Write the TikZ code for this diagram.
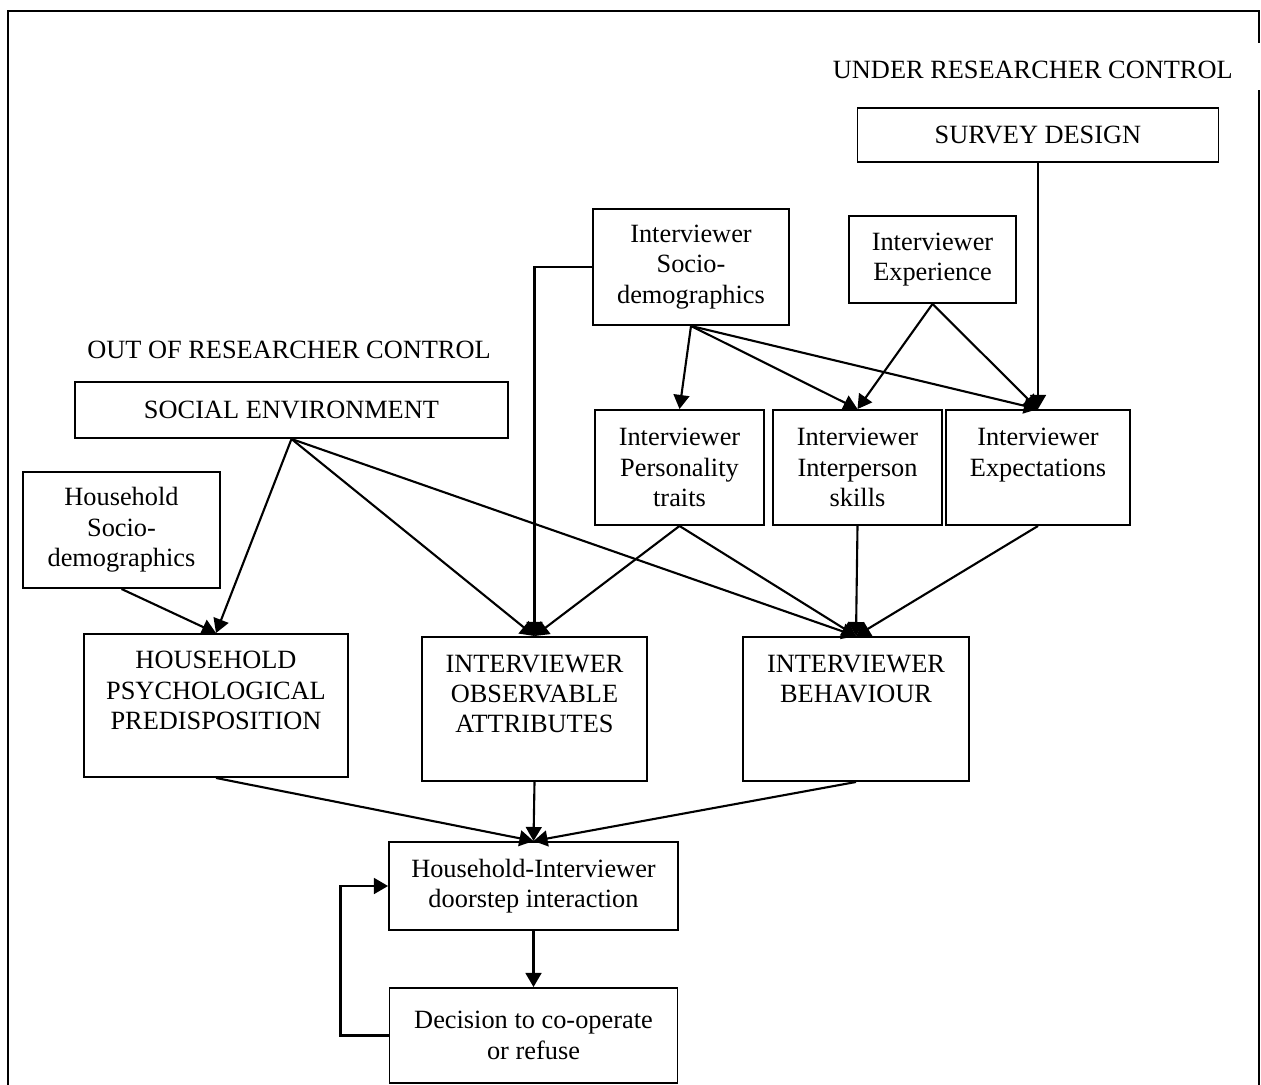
\documentclass[tikz,border=0pt]{standalone}
\usepackage{fontspec}
\setmainfont{Liberation Serif}
\usepackage{tikz}
\usetikzlibrary{arrows.meta}

\tikzset{
  box/.style={draw, black, line width=1.1pt, align=center, inner sep=0pt,
    font=\fontsize{15}{17.3}\selectfont},
  wh/.style 2 args={minimum width=#1*0.02cm, minimum height=#2*0.02cm},
  lbl/.style={font=\fontsize{15}{17.3}\selectfont, inner sep=0pt},
  arr/.style={-{Triangle[length=8pt,width=9pt]}, line width=1.2pt},
}

\begin{document}
\begin{tikzpicture}[x=0.02cm, y=-0.02cm]
      \useasboundingbox (0,0) rectangle (1261,1085);
      % frame round the whole figure
      \draw[line width=1.6pt] (8,1085) -- (8,11) -- (1259,11) -- (1259,43);
      \draw[line width=1.6pt] (1259,90) -- (1259,1085);

      \draw
      (1233,70)     node[lbl, anchor=east](under){UNDER RESEARCHER CONTROL}
      (1038,135)    node[box, wh={361}{54}](survey){SURVEY DESIGN}
      (691,267)     node[box, wh={196}{116}](intsocio){Interviewer\\Socio-\\demographics}
      (932.5,259.5) node[box, wh={167}{87}](intexp){Interviewer\\Experience}
      (289,350)     node[lbl](out){OUT OF RESEARCHER CONTROL}
      (291.5,410)   node[box, wh={433}{56}](socenv){SOCIAL ENVIRONMENT}
      (121.5,530)   node[box, wh={197}{116}](hhsocio){Household\\Socio-\\demographics}
      (679.5,467.5) node[box, wh={169}{115}](personality){Interviewer\\Personality\\traits}
      (857.5,467.5) node[box, wh={169}{115}](interperson){Interviewer\\Interperson\\skills}
      (1038,467.5)  node[box, wh={184}{115}](expect){Interviewer\\Expectations\\~};

      \draw
      (216,705.5)   node[box, wh={264}{143}](hhpsych){HOUSEHOLD\\PSYCHOLOGICAL\\PREDISPOSITION\\~}
      (534.5,709)   node[box, wh={225}{144}](observ){INTERVIEWER\\OBSERVABLE\\ATTRIBUTES\\~}
      (856,709)     node[box, wh={226}{144}](behav){INTERVIEWER\\BEHAVIOUR\\~\\~}
      (533.5,886)   node[box, wh={289}{88}](doorstep){Household-Interviewer\\doorstep interaction}
      (533.5,1035.5) node[box, wh={288}{95}](decision){Decision to co-operate\\or refuse};

      % researcher side
      \draw[arr] (survey) -- (expect);
      \draw[arr] (intexp.south) -- (interperson.north);
      \draw[arr] (intexp.south) -- (expect.north);
      \draw[arr] (intsocio.west) -| (observ.north);
      \draw[arr] (intsocio.south) -- (personality.north);
      \draw[arr] (intsocio.south) -- (interperson.north);
      \draw[arr] (intsocio.south) -- (expect.north);

      % social environment and household
      \draw[arr] (socenv.south) -- (hhpsych.north);
      \draw[arr] (socenv.south) -- (observ.north);
      \draw[arr] (socenv.south) -- (behav.north);
      \draw[arr] (hhsocio.south) -- (hhpsych.north);

      \draw[arr] (personality.south) -- (observ.north);
      \draw[arr] (personality.south) -- (behav.north);
      \draw[arr] (interperson.south) -- (behav.north);
      \draw[arr] (expect.south) -- (behav.north);

      % doorstep
      \draw[arr] (hhpsych.south) -- (doorstep.north);
      \draw[arr] (observ.south) -- (doorstep.north);
      \draw[arr] (behav.south) -- (doorstep.north);
      \draw[arr] (doorstep) -- (decision);
      \draw[arr] (decision.west) -- ++(-48,0) |- (doorstep.west);
    \end{tikzpicture}
\end{document}
